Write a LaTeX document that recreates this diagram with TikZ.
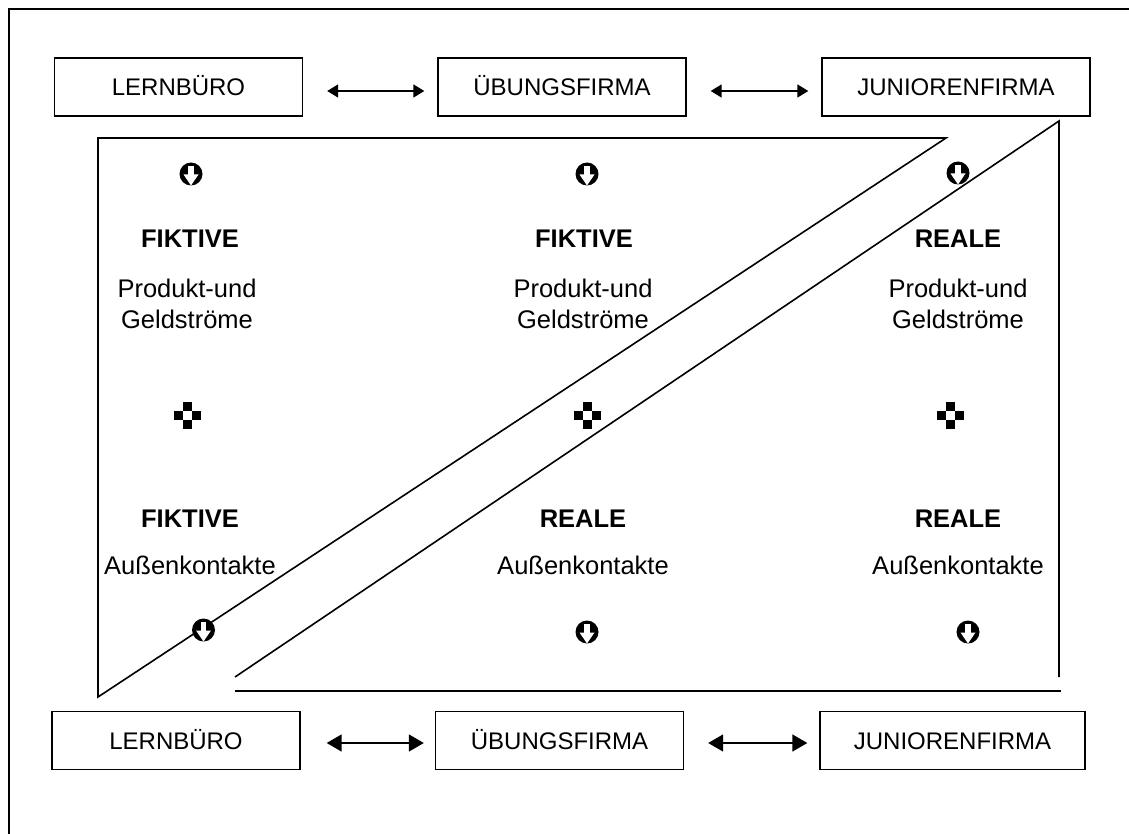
\documentclass[tikz,border=0pt]{standalone}
\usepackage{fontspec}
\setmainfont{Liberation Sans}
\usetikzlibrary{arrows.meta}

\begin{document}
\begin{tikzpicture}[x=1pt,y=-1pt,
  box/.style={draw,line width=1.4pt,minimum width=248pt,minimum height=58pt,
    inner sep=0pt,font=\fontsize{24}{28}\selectfont,text height=17pt,text depth=0pt},
  lbl/.style={anchor=base,inner sep=0pt,font=\fontsize{25.5}{30}\selectfont},
  hd/.style={lbl,font=\fontsize{25.5}{30}\selectfont\bfseries},
  tri/.style={line width=1.6pt},
  arr/.style={line width=1.6pt,{Triangle[length=11pt,width=13pt]}-{Triangle[length=11pt,width=13pt]}},
  arrb/.style={line width=1.6pt,{Triangle[length=15pt,width=17pt]}-{Triangle[length=15pt,width=17pt]}},
  downsym/.pic={
    \fill (0,0) circle (11.5);
    \fill[white] (-2.6,-8) rectangle (2.6,2);
    \fill[white] (-7.5,0.5) -- (7.5,0.5) -- (0,11.5) -- cycle;
  },
  plussym/.pic={
    \fill (-4.5,-13.5) rectangle (4.5,-4.5);
    \fill (-4.5,4.5) rectangle (4.5,13.5);
    \fill (-13.5,-4.5) rectangle (-4.5,4.5);
    \fill (4.5,-4.5) rectangle (13.5,4.5);
  }]
\useasboundingbox (0,0) rectangle (1129,834);

% open outer frame
\draw[line width=2.8pt] (9,834) -- (9,9) -- (1129,9);

% upper row of boxes
\node[box] (lt) at (178.5,87) {LERNBÜRO};
\node[box] (ut) at (562,87) {ÜBUNGSFIRMA};
\node[box,minimum width=268pt] (jt) at (956,87) {JUNIORENFIRMA};
\draw[arr] ([shift={(24,4)}]lt.east) -- ([shift={(-13,4)}]ut.west);
\draw[arr] ([shift={(24,4)}]ut.east) -- ([shift={(-13,4)}]jt.west);

% lower row of boxes
\node[box] (lb) at (176,740.5) {LERNBÜRO};
\node[box] (ub) at (559.5,740.5) {ÜBUNGSFIRMA};
\node[box,minimum width=265pt] (jb) at (952.5,740.5) {JUNIORENFIRMA};
\draw[arrb] ([shift={(26,2.5)}]lb.east) -- ([shift={(-11,2.5)}]ub.west);
\draw[arrb] ([shift={(24,2.5)}]ub.east) -- ([shift={(-12,2.5)}]jb.west);

% the two triangles
\draw[tri] (98,138) -- (946,138) -- (98,697) -- cycle;
\draw[tri] (235,677) -- (1059,121) -- (1059,677);
\draw[tri] (235,691) -- (1061,691);

% symbols
\pic at (191,174) {downsym};
\pic at (587,174) {downsym};
\pic at (958,173) {downsym};
\pic at (203.5,630) {downsym};
\pic at (587,632) {downsym};
\pic at (968,632) {downsym};
\pic at (187,415) {plussym};
\pic at (587.5,415) {plussym};
\pic at (950,415) {plussym};

% column texts
\node[hd]  (a1) at (190,248) {FIKTIVE};
\node[lbl] (a2) at (187,297) {Produkt-und};
\node[lbl] (a3) at (187,328) {Geldströme};
\node[hd]  (a4) at (190,527) {FIKTIVE};
\node[lbl] (a5) at (190,574) {Außenkontakte};

\node[hd]  (b1) at (584,248) {FIKTIVE};
\node[lbl] (b2) at (583,297) {Produkt-und};
\node[lbl] (b3) at (583,328) {Geldströme};
\node[hd]  (b4) at (583,527) {REALE};
\node[lbl] (b5) at (583,574) {Außenkontakte};

\node[hd]  (c1) at (958,248) {REALE};
\node[lbl] (c2) at (958,297) {Produkt-und};
\node[lbl] (c3) at (958,328) {Geldströme};
\node[hd]  (c4) at (958,527) {REALE};
\node[lbl] (c5) at (958,574) {Außenkontakte};
\end{tikzpicture}
\end{document}
